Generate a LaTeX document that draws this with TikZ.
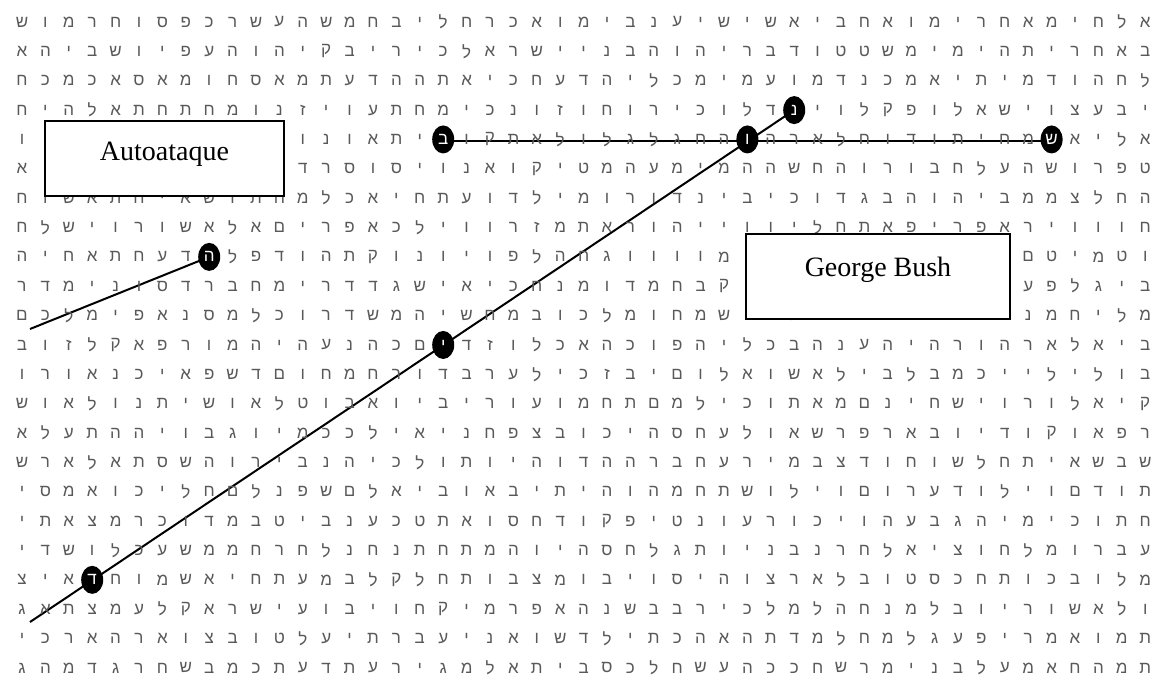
\documentclass[tikz,border=0pt]{standalone}
\usepackage{fontspec}
\setmainfont{Liberation Serif}
\newfontfamily\hebfont[Script=Hebrew]{Liberation Sans}
\usetikzlibrary{shapes.geometric,backgrounds}

\def\skipcell{-}

\begin{document}
\begin{tikzpicture}[x=0.5pt, y=-0.5pt,
  letter/.style={font=\hebfont\fontsize{8.5}{9}\selectfont, text=black!65, inner sep=0pt},
  hit/.style={ellipse, fill=black, text=white, inner sep=0pt,
              minimum width=11pt, minimum height=14pt,
              font=\hebfont\fontsize{8.5}{9}\selectfont},
  namebox/.style={draw, line width=1pt, fill=white, inner sep=0pt,
                  font=\fontsize{14}{16}\selectfont},
  link/.style={line width=1pt}]
\useasboundingbox (0,0) rectangle (1154,690);

% letter grid, 23 rows x 49 columns ("-" = circled or covered)
\foreach \rowdata [count=\rw from 0] in {
  {ש,ו,מ,ר,ח,ו,ס,פ,כ,ר,ש,ע,ה,ש,מ,ח,ב,י,ל,ח,ר,כ,א,ו,מ,י,ב,נ,ע,י,ש,י,ש,א,י,ב,ח,א,ו,מ,י,ר,ח,א,מ,י,ח,ל,א},
  {א,ה,י,ב,ש,ו,י,פ,ע,ה,ו,ה,י,ק,ב,י,ר,י,כ,ל,א,ר,ש,י,י,נ,ב,ה,ו,ה,י,ר,ב,ד,ו,ט,ט,ש,מ,י,מ,י,ה,ת,י,ר,ח,א,ב},
  {ח,כ,מ,כ,א,ס,א,מ,ו,ח,ס,א,מ,ת,ע,ד,ה,ה,ת,א,י,כ,ח,ע,ד,ה,י,ל,כ,מ,י,מ,ע,ו,מ,ד,נ,כ,מ,א,י,ת,י,מ,ד,ו,ה,ח,ל},
  {ח,י,ה,ל,א,ת,ח,ת,ח,מ,ו,נ,ז,י,ו,ע,ת,ח,מ,י,כ,נ,ו,ז,ו,ח,ו,ר,י,כ,ו,ל,ד,-,י,ו,ל,ק,פ,ו,ל,א,ש,י,ו,צ,ע,ב,י},
  {ו,-,-,-,-,-,-,-,-,-,-,-,ו,נ,ו,א,ת,י,-,ו,ק,ת,א,ל,ו,ל,ג,ל,ג,ח,ה,-,ה,ר,א,ל,ח,ו,ד,ו,ת,י,ח,מ,-,א,י,ל,א},
  {א,-,-,-,-,-,-,-,-,-,-,-,ד,ר,ס,ו,ס,י,ו,נ,א,ו,ק,י,ט,מ,ה,ע,מ,י,מ,ה,ה,ש,ח,ה,ו,ר,ו,ב,ח,ל,ע,ה,ש,ו,ר,פ,ט},
  {ח,ו,ש,א,ת,ח,י,א,ש,ו,ת,ח,מ,ל,כ,א,י,ח,ת,ע,ו,ד,ל,י,מ,ו,ר,ו,ד,נ,י,ב,י,כ,ו,ד,ג,ב,ה,ו,ה,י,ב,מ,מ,צ,ל,ח,ה},
  {ח,ל,ש,י,ו,ר,ו,ש,א,ל,א,ם,י,ר,פ,א,כ,ל,י,ו,ו,ר,ז,מ,ת,א,ר,ו,ה,י,י,ו,ו,י,ל,ח,ת,א,פ,י,ר,פ,א,ר,י,ו,ו,ו,ח},
  {ה,י,ח,א,ת,ח,ע,ד,-,ל,פ,ד,ו,ה,ת,ק,ו,נ,ו,י,ו,פ,ל,ה,ח,ג,ו,ו,ו,ו,מ,-,-,-,-,-,-,-,-,-,-,-,-,ם,ט,י,מ,ט,ו},
  {ר,ד,מ,י,נ,ו,ס,ד,ר,ב,ח,מ,י,ר,ד,ד,ג,ש,י,א,י,כ,ח,נ,מ,ו,ד,מ,ח,ב,ק,-,-,-,-,-,-,-,-,-,-,-,-,ע,פ,ל,ג,י,ב},
  {ם,כ,ל,מ,י,פ,א,נ,ס,מ,ל,כ,ו,ר,ד,ש,מ,ה,י,ש,ח,מ,ב,ו,כ,ל,מ,ו,ח,מ,ש,ו,ה,ש,ב,ת,ו,י,ר,מ,ה,ו,ג,נ,מ,ח,י,ל,מ},
  {ב,ו,ז,ל,ק,א,פ,ר,ו,מ,ה,י,ה,ע,נ,ה,כ,ם,-,ד,ז,ו,ל,כ,א,ה,כ,ו,פ,ה,י,ל,כ,ב,ה,נ,ע,ה,י,ה,ר,ו,ה,ר,א,ל,א,י,ב},
  {ו,ר,ו,א,נ,כ,י,א,פ,ש,ד,ם,ו,ח,מ,ח,ר,ו,ד,ב,ר,ע,ל,י,כ,ז,ב,י,ם,ו,ל,א,ו,ש,א,ל,י,ב,ל,ב,מ,כ,י,י,ל,י,ל,ו,ב},
  {ש,ו,א,ל,ו,נ,ת,י,ש,ו,א,ל,ט,ו,ב,א,ו,י,ב,י,ר,ו,ע,ו,מ,ח,ת,ם,מ,ל,י,כ,ו,ת,א,מ,ם,נ,י,ח,ש,י,ו,ר,ו,ל,א,י,ק},
  {א,ל,ע,ת,ה,ה,י,ו,ב,ג,ו,י,מ,כ,כ,ל,י,א,י,נ,ח,פ,צ,ב,ו,כ,י,ה,ס,ח,ע,ל,ו,א,ש,ר,פ,ר,א,ב,ו,י,ד,ו,ק,ו,א,פ,ר},
  {ש,ר,א,ל,א,ת,ס,ש,ה,ו,ר,י,ב,נ,ה,י,כ,ל,ו,ת,ו,י,ה,ו,ד,ה,ה,ר,ב,ח,ע,ר,י,מ,ב,צ,ד,ו,ח,ו,ש,ל,ח,ת,י,א,ש,ב,ש},
  {י,ס,מ,א,ו,כ,י,ל,ח,ם,ל,נ,פ,ש,ם,ל,א,י,ב,ו,א,ב,י,ת,י,ה,ו,ה,מ,ח,ת,ש,ו,ל,י,ו,ם,ו,ר,ע,ד,ו,ל,י,ו,ם,ד,ו,ת},
  {י,ת,א,צ,מ,ר,כ,ו,ד,מ,ב,ט,י,ב,נ,ע,כ,ט,ת,א,ו,ס,ח,ד,ו,ק,פ,י,ט,נ,ו,ע,ר,ו,כ,י,ו,ה,ע,ב,ג,ה,י,מ,י,כ,ו,ת,ח},
  {י,ד,ש,ו,ל,כ,ע,ש,מ,מ,ח,ר,ח,ל,נ,ח,נ,ת,ח,ת,מ,ה,ו,י,ה,ס,ח,ל,ג,ת,ו,י,נ,ב,נ,ר,ח,ל,א,י,צ,ו,ח,ל,מ,ו,ר,ב,ע},
  {צ,י,א,-,ח,ו,מ,ש,א,י,ח,ת,ע,מ,ב,ל,ק,ל,ח,ת,ו,ב,צ,מ,ו,ב,י,ו,ס,י,ה,ו,צ,ר,א,ל,ב,ו,ט,ס,כ,ח,ת,ו,כ,ב,ו,ל,מ},
  {ג,א,ת,צ,מ,ע,ל,ק,א,ר,ש,י,ע,ו,ב,י,ו,ח,ק,י,מ,ר,פ,א,ה,נ,ש,ב,ב,ר,י,כ,ל,מ,ל,ה,ח,נ,מ,ל,ב,ו,י,ר,ו,ש,א,ל,ו},
  {י,כ,ר,א,ה,ר,א,ו,צ,ב,ו,ט,ל,ע,י,ת,ר,ב,ע,י,נ,א,ו,ש,ד,ל,י,ת,כ,ה,א,ה,ת,ד,מ,ל,ח,מ,ל,ג,ע,פ,י,ר,מ,א,ו,מ,ת},
  {ג,ה,מ,ד,ג,ר,ח,ש,ב,מ,כ,ת,ע,ד,ת,ע,ר,י,ג,מ,ל,א,ת,י,ב,ס,כ,ל,ח,ש,ע,ה,כ,כ,ח,ש,ר,מ,י,נ,ב,ל,ע,מ,א,ח,ה,מ,ת}}
{
  \foreach \ch [count=\cl from 0] in \rowdata {
    \ifx\ch\skipcell\else
      \node[letter] (g-\rw-\cl) at ({22+23.4*\cl},{22+29.36*\rw}) {\ch};
    \fi
  }
}

% circled letters
\node[hit] (nun)   at ({22+23.4*33},{22+29.36*3})  {נ};
\node[hit] (bet)   at ({22+23.4*18},{22+29.36*4})  {ב};
\node[hit] (vav)   at ({22+23.4*31},{22+29.36*4})  {ו};
\node[hit] (shin)  at ({22+23.4*44},{22+29.36*4})  {ש};
\node[hit] (he)    at ({22+23.4*8},{22+29.36*8})   {ה};
\node[hit] (yod)   at ({22+23.4*18},{22+29.36*11}) {י};
\node[hit] (dalet) at ({22+23.4*3},{22+29.36*19})  {ד};

\coordinate (tail1) at (30,622);
\coordinate (tail2) at (30,329);

\begin{scope}[on background layer]
\draw[link] ([yshift=-1pt]bet.center) -- ([yshift=-1pt]shin.center);
\draw[link] (tail1) -- (nun.center);
\draw[link] (tail2) -- (he.center);
\end{scope}

% labels
\node[namebox, minimum width=119.5pt, minimum height=37.5pt, text depth=7pt] (auto) at (164.5,158.5) {Autoataque};
\node[namebox, minimum width=132pt, minimum height=42.5pt, text depth=10pt] (bush) at (878,276.5) {George Bush};
\end{tikzpicture}
\end{document}
